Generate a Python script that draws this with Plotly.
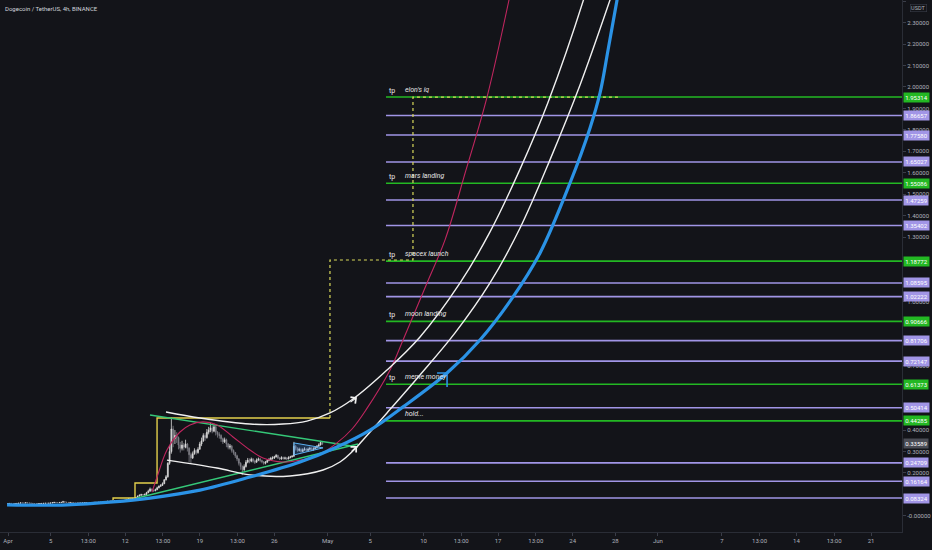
import pandas as pd
import plotly.graph_objects as go

BASE = pd.Timestamp("2021-04-01 00:00")

# ---------------- 4h candles, starting 2021-04-01 00:00 ----------------
first_open = 0.0565
closes = [
    .0575, .0580, .0578, .0572, .0577, .0580,   # Apr 1
    .0592, .0605, .0600, .0598, .0610, .0603,   # Apr 2
    .0595, .0585, .0575, .0570, .0562, .0570,   # Apr 3
    .0575, .0580, .0583, .0590, .0588, .0592,   # Apr 4
    .0600, .0615, .0630, .0622, .0618, .0625,   # Apr 5
    .0630, .0660, .0640, .0628, .0620, .0625,   # Apr 6
    .0615, .0600, .0585, .0592, .0595, .0598,   # Apr 7
    .0603, .0612, .0620, .0618, .0615, .0622,   # Apr 8
    .0626, .0632, .0625, .0630, .0634, .0632,   # Apr 9
    .0640, .0655, .0680, .0672, .0688, .0684,   # Apr 10
    .0695, .0690, .0700, .0708, .0712, .0710,   # Apr 11
    .0735, .0760, .0800, .0790, .0810, .0800,   # Apr 12
    .0850, .0920, .0960, .0990, .0975, .1000,   # Apr 13
    .1080, .1150, .1250, .1190, .1170, .1220,   # Apr 14
    .1310, .1380, .1420, .1500, .1680, .1820,   # Apr 15
    .2450, .3000, .4050, .3600, .3750, .3650,   # Apr 16
    .3300, .3150, .3300, .3200, .3350, .3150,   # Apr 17
    .2850, .2700, .2900, .3050, .2950, .3100,   # Apr 18
    .3350, .3500, .3750, .3650, .3900, .4000,   # Apr 19
    .4100, .3950, .4150, .3900, .3800, .3750,   # Apr 20
    .3600, .3450, .3550, .3350, .3200, .3250,   # Apr 21
    .3050, .2950, .2800, .2650, .2450, .2300,   # Apr 22
    .2150, .2300, .2500, .2600, .2550, .2650,   # Apr 23
    .2550, .2500, .2600, .2650, .2580, .2520,   # Apr 24
    .2450, .2500, .2580, .2620, .2680, .2700,   # Apr 25
    .2750, .2820, .2700, .2650, .2720, .2680,   # Apr 26
    .2700, .2650, .2720, .2750, .2780, .3250,   # Apr 27
    .3150, .3050, .3100, .3000, .3080, .3120,   # Apr 28
    .3050, .3100, .3150, .3080, .3120, .3180,   # Apr 29
    .3250, .3300, .3420, .33589,                # Apr 30
]
highs = [
    .0600, .0590, .0585, .0582, .0585, .0588,
    .0600, .0615, .0612, .0608, .0618, .0613,
    .0606, .0598, .0590, .0580, .0575, .0576,
    .0580, .0586, .0590, .0596, .0594, .0598,
    .0606, .0625, .0645, .0635, .0628, .0632,
    .0636, .0700, .0668, .0645, .0632, .0632,
    .0628, .0620, .0605, .0600, .0602, .0605,
    .0608, .0618, .0626, .0625, .0622, .0628,
    .0630, .0638, .0636, .0636, .0640, .0640,
    .0645, .0662, .0695, .0690, .0700, .0750,
    .0705, .0702, .0708, .0715, .0720, .0718,
    .0745, .0780, .0830, .0815, .0840, .0820,
    .0870, .0950, .1000, .1030, .1010, .1040,
    .1120, .1220, .1320, .1280, .1230, .1270,
    .1360, .1420, .1480, .1560, .1720, .1900,
    .2500, .3300, .4580, .4200, .4000, .3900,
    .3700, .3450, .3500, .3400, .3550, .3400,
    .3200, .2950, .3000, .3150, .3100, .3200,
    .3450, .3650, .3850, .3850, .4050, .4150,
    .4350, .4200, .4300, .4200, .3950, .3900,
    .3800, .3650, .3650, .3600, .3400, .3350,
    .3300, .3100, .2980, .2850, .2700, .2500,
    .2350, .2400, .2600, .2700, .2680, .2720,
    .2700, .2620, .2680, .2720, .2700, .2620,
    .2550, .2560, .2650, .2700, .2750, .2780,
    .2800, .2880, .2850, .2750, .2780, .2760,
    .2760, .2740, .2780, .2800, .2830, .3450,
    .3300, .3200, .3180, .3150, .3150, .3200,
    .3150, .3180, .3220, .3200, .3200, .3250,
    .3300, .3380, .3500, .3450,
]
lows = [
    .0560, .0570, .0570, .0565, .0568, .0572,
    .0578, .0588, .0594, .0590, .0595, .0598,
    .0588, .0580, .0568, .0560, .0552, .0558,
    .0565, .0572, .0576, .0580, .0582, .0584,
    .0588, .0596, .0612, .0615, .0610, .0614,
    .0620, .0626, .0632, .0620, .0612, .0616,
    .0608, .0590, .0575, .0580, .0586, .0590,
    .0594, .0600, .0608, .0610, .0608, .0612,
    .0616, .0622, .0620, .0620, .0625, .0626,
    .0628, .0636, .0650, .0660, .0668, .0670,
    .0680, .0682, .0688, .0696, .0702, .0702,
    .0705, .0725, .0755, .0770, .0785, .0785,
    .0790, .0840, .0900, .0940, .0950, .0960,
    .0990, .1060, .1130, .1140, .1120, .1150,
    .1200, .1280, .1350, .1400, .1480, .1650,
    .1780, .2380, .2900, .3200, .3350, .3400,
    .3100, .2950, .3050, .3050, .3150, .3000,
    .2500, .2450, .2650, .2850, .2850, .2900,
    .3100, .3250, .3450, .3500, .3600, .3800,
    .3900, .3850, .3900, .3750, .3650, .3600,
    .3450, .3350, .3400, .3200, .3100, .3100,
    .2950, .2850, .2700, .2550, .2350, .2150,
    .1900, .2100, .2250, .2450, .2450, .2500,
    .2480, .2420, .2480, .2550, .2500, .2450,
    .2380, .2400, .2480, .2550, .2600, .2620,
    .2650, .2720, .2650, .2600, .2620, .2620,
    .2620, .2600, .2640, .2680, .2720, .2760,
    .3050, .2980, .3000, .2950, .2980, .3040,
    .2980, .3020, .3060, .3020, .3040, .3100,
    .3150, .3220, .3280, .3300,
]

# ---------------- price levels ----------------
tp_prices = [1.95314, 1.55086, 1.18772, 0.90666, 0.61373]
tp_names = ["elon's iq", "mars landing", "spacex launch", "moon landing", "meme money"]
hold_price = 0.44285
hold_name = "hold..."
mid_prices = [1.86657, 1.77580, 1.65027, 1.47259, 1.35402, 1.08595, 1.02222,
              0.81706, 0.72147, 0.50414, 0.24709, 0.16164, 0.08324]
last_price = 0.33589
levels_start_day = 35.48
tp_text_day = 35.6
name_text_day = 37.12

# ---------------- drawn curves (day offset from Apr 1, price) ----------------
blue_days = [-0.09, 5.54, 9.86, 13.33, 18.02, 22.71, 27.41, 30.88, 33.98, 37.08, 41.21,
             44.30, 47.40, 49.94, 52.75, 54.63, 55.57, 56.32, 57.16, 57.63]
blue_prices = [0.051, 0.051, 0.065, 0.083, 0.120, 0.181, 0.251, 0.321, 0.400, 0.508, 0.666,
               0.820, 1.021, 1.226, 1.552, 1.809, 1.972, 2.172, 2.405, 2.522]

red_days = [13.52, 13.99, 14.92, 16.14, 17.08, 18.30, 19.62, 21.12, 22.71, 23.93, 25.81,
            27.41, 29.00, 30.88, 32.29, 33.60, 35.86, 37.08, 39.33, 41.02, 42.99, 44.96,
            47.02, 47.49]
red_prices = [0.111, 0.181, 0.307, 0.391, 0.424, 0.438, 0.424, 0.368, 0.307, 0.270, 0.251,
              0.260, 0.279, 0.340, 0.405, 0.494, 0.680, 0.820, 1.086, 1.287, 1.613, 1.953,
              2.405, 2.522]

white1_days = [14.83, 18.02, 22.71, 25.81, 28.06, 30.22, 32.38, 35.57, 38.67, 42.43, 45.24,
               48.06, 50.69, 54.16, 54.82]
white1_prices = [0.484, 0.456, 0.428, 0.428, 0.442, 0.480, 0.545, 0.680, 0.834, 1.086, 1.324,
                 1.617, 1.929, 2.429, 2.545]

white2_days = [14.92, 19.62, 22.71, 26.47, 29.57, 31.16, 32.57, 33.32, 35.57, 38.67, 41.96,
               45.24, 48.06, 50.87, 53.69, 56.50, 57.44]
white2_prices = [0.260, 0.223, 0.191, 0.186, 0.214, 0.251, 0.312, 0.354, 0.480, 0.657, 0.853,
                 1.086, 1.342, 1.660, 2.009, 2.405, 2.545]

wedge_top_days = [13.33, 32.85]
wedge_top_prices = [0.470, 0.321]
wedge_bot_days = [12.11, 32.85]
wedge_bot_prices = [0.083, 0.335]

yellow_days = [9.86, 9.86, 11.92, 11.92, 13.99, 13.99, 30.22]
yellow_prices = [0.074, 0.083, 0.083, 0.153, 0.153, 0.456, 0.456]
dotted_days = [30.22, 30.22, 38.01, 38.01, 57.25]
dotted_prices = [0.456, 1.193, 1.193, 1.953, 1.953]

pennant_days = [26.84, 29.57, 26.84, 26.84]
pennant_prices = [0.340, 0.317, 0.284, 0.340]

bluemark_days = [40.27, 41.21, 41.21]
bluemark_prices = [0.666, 0.666, 0.601]

arrow_days = [32.76, 32.76]
arrow_prices = [0.553, 0.326]

# ---------------- axis ticks ----------------
xtick_days = [0, 4, 7.54, 11, 14.54, 18, 21.54, 25, 30, 34, 39, 42.54, 46, 49.54, 53, 57, 61,
              67, 70.54, 74, 77.54, 81]
xtick_text = ["Apr", "5", "13:00", "12", "13:00", "19", "13:00", "26", "May", "5", "10", "13:00",
              "17", "13:00", "24", "28", "Jun", "7", "13:00", "14", "13:00", "21"]
ytick_vals = [0.0, 0.2, 0.3, 0.4, 0.7, 1.0, 1.3, 1.4, 1.5, 1.6, 1.7, 1.8, 1.9, 2.0, 2.1,
              2.2, 2.3, 2.4]
ytick_text = ["-0.00000"] + [f"{v:.5f}" for v in ytick_vals[1:]]

x_range_days = [-0.751, 83.91]
y_range = [-0.0753, 2.4055]


def T(days):
    return [BASE + pd.Timedelta(days=d) for d in days]


BG = "#131419"
GREEN = "#23b823"
LAV = "#a195e6"
TXT = "#aeb1ba"

fig = go.Figure()

times = [BASE + pd.Timedelta(hours=4 * i) for i in range(len(closes))]
opens = [first_open] + closes[:-1]
fig.add_trace(go.Candlestick(
    x=times, open=opens, high=highs, low=lows, close=closes,
    increasing=dict(line=dict(color="#dcdcdc", width=0.8), fillcolor="#dcdcdc"),
    decreasing=dict(line=dict(color="#808088", width=0.8), fillcolor="#808088"),
    whiskerwidth=0, hoverinfo="skip", showlegend=False,
))

x_end = [T([levels_start_day])[0], T([90])[0]]
for p in mid_prices:
    fig.add_trace(go.Scatter(x=x_end, y=[p, p], mode="lines",
                             line=dict(color=LAV, width=1.6), hoverinfo="skip", showlegend=False))
for p in tp_prices + [hold_price]:
    fig.add_trace(go.Scatter(x=x_end, y=[p, p], mode="lines",
                             line=dict(color=GREEN, width=1.6), hoverinfo="skip", showlegend=False))


def curve(days, prices, color, width, shape="spline", dash=None, fill=None, fillcolor=None):
    fig.add_trace(go.Scatter(x=T(days), y=prices, mode="lines",
                             line=dict(color=color, width=width, shape=shape, dash=dash,
                                       smoothing=1.0),
                             fill=fill, fillcolor=fillcolor,
                             hoverinfo="skip", showlegend=False))


curve(yellow_days, yellow_prices, "#e3cf4c", 1.4, shape="linear")
curve(dotted_days, dotted_prices, "#d8d85a", 1.2, shape="linear", dash="dot")
curve(wedge_top_days, wedge_top_prices, "#35c878", 1.4, shape="linear")
curve(wedge_bot_days, wedge_bot_prices, "#35c878", 1.4, shape="linear")
curve(pennant_days, pennant_prices, "#5ab0f0", 1.0, shape="linear",
      fill="toself", fillcolor="rgba(60,140,230,0.25)")
curve(red_days, red_prices, "#c0265f", 1.1)
curve(white1_days, white1_prices, "#f0f0f0", 1.4)
curve(white2_days, white2_prices, "#f0f0f0", 1.4)
curve(blue_days, blue_prices, "#2b93e6", 3.2)
curve(bluemark_days, bluemark_prices, "#2b93e6", 1.6, shape="linear")

ann = []
# white arrow heads
for (d, p), (ax, ay) in zip(zip(arrow_days, arrow_prices), [(-8, 6), (-7, 7)]):
    ann.append(dict(x=T([d])[0], y=p, xref="x", yref="y", text="", showarrow=True,
                    arrowhead=4, arrowsize=1.4, arrowwidth=1.1, arrowcolor="#f0f0f0",
                    ax=ax, ay=ay))

# level texts
for p, name in zip(tp_prices, tp_names):
    ann.append(dict(x=T([tp_text_day])[0], y=p, xref="x", yref="y", text="tp",
                    showarrow=False, xanchor="left", yanchor="bottom", yshift=0,
                    font=dict(size=7, color="#e6e6e6", family="Roboto")))
    ann.append(dict(x=T([name_text_day])[0], y=p, xref="x", yref="y",
                    text="<i>" + name + "</i>",
                    showarrow=False, xanchor="left", yanchor="bottom", yshift=1,
                    font=dict(size=7, color="#e6e6e6", family="Roboto")))
ann.append(dict(x=T([name_text_day])[0], y=hold_price, xref="x", yref="y",
                text="<i>" + hold_name + "</i>",
                showarrow=False, xanchor="left", yanchor="bottom", yshift=1,
                font=dict(size=7, color="#e6e6e6", family="Roboto")))


# right-axis price boxes
def box(p, bg, fg="#ffffff"):
    ann.append(dict(x=1, y=p, xref="paper", yref="y", text=f"{p:.5f}", showarrow=False,
                    xanchor="left", yanchor="middle", xshift=1,
                    bgcolor=bg, borderpad=1.2,
                    font=dict(size=6, color=fg, family="Roboto")))


for p in mid_prices:
    box(p, LAV)
for p in tp_prices + [hold_price]:
    box(p, GREEN)
box(last_price, "#4a4c55")

ann.append(dict(x=0.003, y=1, xref="paper", yref="paper", yshift=-3,
                text="Dogecoin / TetherUS, 4h, BINANCE", showarrow=False,
                xanchor="left", yanchor="top",
                font=dict(size=6, color="#d1d4dc", family="Roboto")))
ann.append(dict(x=1, y=1, xref="paper", yref="paper", xshift=8, yshift=-4,
                text="USDT", showarrow=False, xanchor="left", yanchor="top",
                bordercolor="#3a3d48", borderwidth=0.6, borderpad=0.5,
                font=dict(size=5.5, color=TXT, family="Roboto")))

fig.update_layout(
    width=932, height=550,
    margin=dict(l=0, r=30, t=0, b=18),
    paper_bgcolor=BG, plot_bgcolor=BG,
    showlegend=False,
    annotations=ann,
    xaxis=dict(type="date", range=T(x_range_days), rangeslider=dict(visible=False),
               showgrid=False, zeroline=False,
               tickvals=T(xtick_days), ticktext=xtick_text,
               tickfont=dict(size=6, color=TXT, family="Roboto"),
               ticks="outside", ticklen=3, tickcolor="#3a3d48",
               showline=True, linecolor="#2a2d36", linewidth=1, fixedrange=True),
    yaxis=dict(side="right", range=y_range, showgrid=False, zeroline=False,
               tickvals=ytick_vals, ticktext=ytick_text,
               tickfont=dict(size=6, color=TXT, family="Roboto"),
               ticks="outside", ticklen=3, tickcolor="#3a3d48",
               showline=True, linecolor="#2a2d36", linewidth=1, fixedrange=True),
)

fig.write_html(
    "out.html",
    config={"displayModeBar": False},
    post_script="document.body.style.margin='0';document.body.style.overflow='hidden';"
                "document.body.style.background='" + BG + "';",
)
